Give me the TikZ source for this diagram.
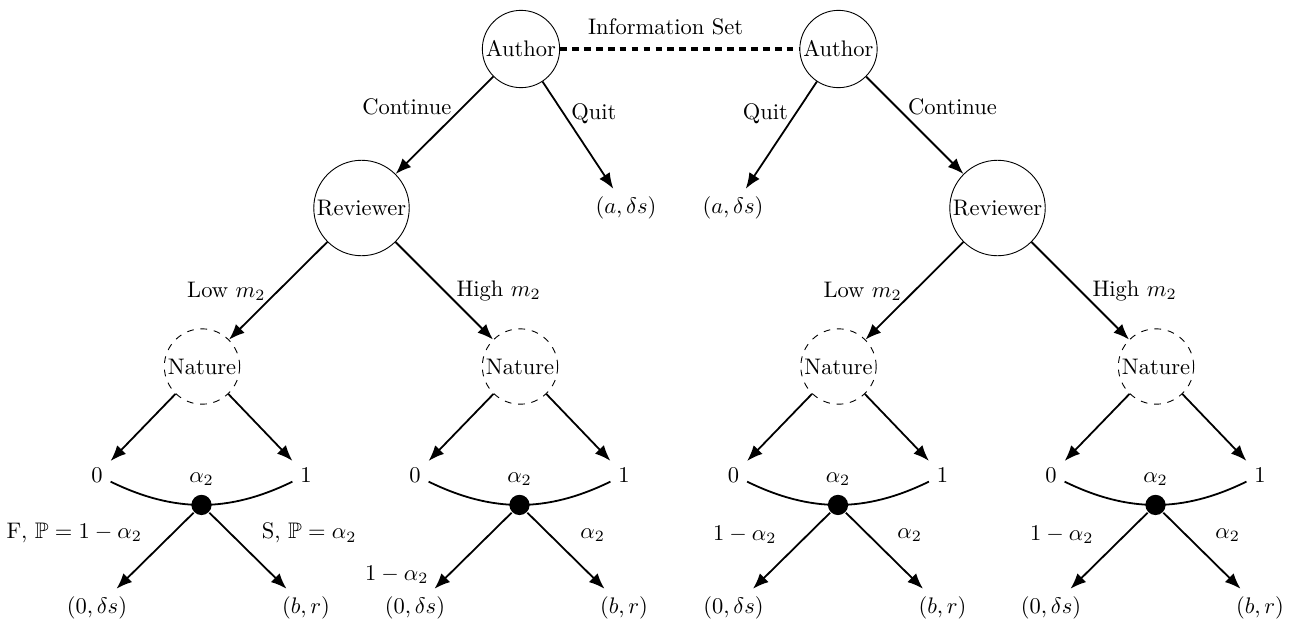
\documentclass[tikz,border=0pt]{standalone}
\usepackage{amssymb}
\usetikzlibrary{arrows.meta}
\tikzset{
  player/.style={circle, draw, thin, inner sep=1pt},
  chance/.style={circle, draw, thin, dashed, inner sep=1pt},
  dotn/.style={circle, fill=black, inner sep=0pt, minimum size=9pt},
  arr/.style={thick, -{Latex[length=7pt,width=5.5pt]}},
  lab/.style={midway, anchor=center},
  infoset/.style={line width=1.4pt, dash pattern=on 3pt off 2.3pt},
}
\newcommand{\natsub}[6]{%
  \node[chance] (#1) at (#2,366.5) {Nature};
  \node (#1z) at ({#2-105},475) {$0$};
  \node (#1o) at ({#2+104},475) {$1$};
  \node (#1l) at ({#2-105},608) {$(0,\delta s)$};
  \node (#1r) at ({#2+104},608) {$(b,r)$};
  \draw[arr] (#1) -- (#1z);
  \draw[arr] (#1) -- (#1o);
  \draw[thick] (#1z) to[bend right=26] node[dotn, label={above:$\alpha_2$}] (#1d) {} (#1o);
  \draw[arr] (#1d) -- (#1l) node[lab, shift={#4}] {#3};
  \draw[arr] (#1d) -- (#1r) node[lab, shift={#6}] {#5};
}
\begin{document}
\begin{tikzpicture}[x=0.4444pt, y=-0.4444pt]
\useasboundingbox (0,0) rectangle (1298,624);
\node[player] (A1) at (521,49) {Author};
\node[player] (A2) at (838.5,49) {Author};
\node[player] (R1) at (361.5,208) {Reviewer};
\node[player] (R2) at (997.5,208) {Reviewer};
\node (Q1) at (626,208) {$(a,\delta s)$};
\node (Q2) at (733,208) {$(a,\delta s)$};
\draw[infoset] (A1) -- (A2) node[midway, above=2pt, xshift=-6.3pt] {Information Set};
\draw[arr] (A1) -- (R1) node[lab, shift={(-37.6,-18.2)}] {Continue};
\draw[arr] (A1) -- (Q1) node[lab, shift={(16,-21.4)}] {Quit};
\draw[arr] (A2) -- (Q2) node[lab, shift={(-16,-21.4)}] {Quit};
\draw[arr] (A2) -- (R2) node[lab, shift={(37.6,-18.2)}] {Continue};
\natsub{N1}{202}{F, $\mathbb{P}=1-\alpha_2$}{(-80.8,-17.8)}{S, $\mathbb{P}=\alpha_2$}{(61.2,-17.8)}
\natsub{N2}{520}{$1-\alpha_2$}{(-76.3,24.2)}{$\alpha_2$}{(26.7,-15.8)}
\natsub{N3}{838.5}{$1-\alpha_2$}{(-46.8,-15.8)}{$\alpha_2$}{(25.2,-15.8)}
\natsub{N4}{1156}{$1-\alpha_2$}{(-47.3,-15.8)}{$\alpha_2$}{(25.7,-15.8)}
\draw[arr] (R1) -- (N1) node[lab, shift={(-51.8,0.6)}] {Low $m_2$};
\draw[arr] (R1) -- (N2) node[lab, shift={(54.4,0)}] {High $m_2$};
\draw[arr] (R2) -- (N3) node[lab, shift={(-51.8,0.6)}] {Low $m_2$};
\draw[arr] (R2) -- (N4) node[lab, shift={(54.4,0)}] {High $m_2$};
\end{tikzpicture}
\end{document}
